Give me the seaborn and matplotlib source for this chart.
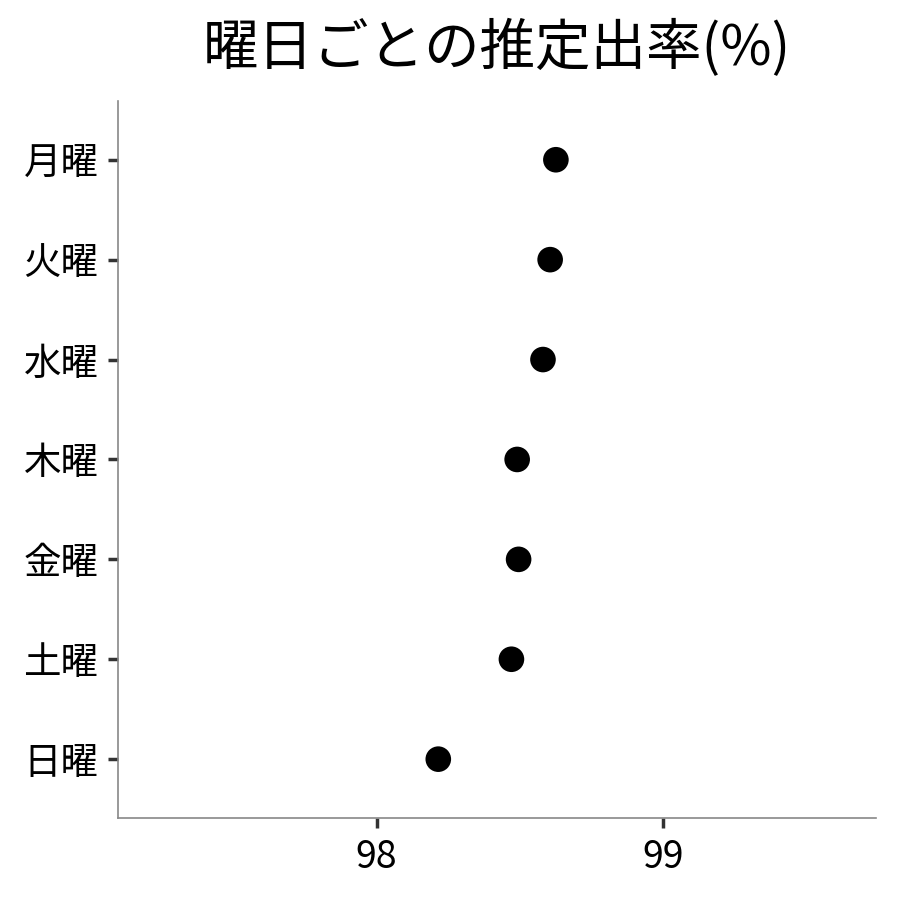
import seaborn as sns
import pandas as pd
import matplotlib.pyplot as plt

sns.set_style("white")
plt.rcParams['font.family'] = ['Noto Sans CJK JP', 'DejaVu Sans']
plt.rcParams['text.color'] = 'black'

days = ['月曜', '火曜', '水曜', '木曜', '金曜', '土曜', '日曜']
rate = [98.625, 98.605, 98.58, 98.49, 98.495, 98.47, 98.215]

df = pd.DataFrame({'day': days, 'rate': rate})

fig = plt.figure(figsize=(9, 9), dpi=100)
ax = fig.add_axes([0.131, 0.091, 0.842, 0.797])
sns.scatterplot(data=df, x='rate', y='day', color='black', s=340,
                edgecolor='none', ax=ax)

ax.set_xlim(97.098, 99.74)
ax.set_ylim(6.59, -0.59)
ax.set_xticks([98, 99])
ax.set_xlabel('')
ax.set_ylabel('')
ax.set_title('曜日ごとの推定出率(%)', fontsize=40, pad=26, color='black')

for s in ['top', 'right']:
    ax.spines[s].set_visible(False)
for s in ['left', 'bottom']:
    ax.spines[s].set_color('#888888')
    ax.spines[s].set_linewidth(1.2)
ax.tick_params(axis='both', labelsize=27, length=7, width=2.5,
               color='#333333', labelcolor='black', pad=7)
ax.tick_params(axis='both', left=True, bottom=True)

plt.savefig('out.png', dpi=100)
